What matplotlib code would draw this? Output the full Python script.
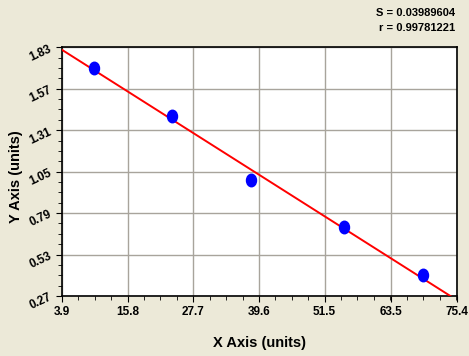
import numpy as np
import matplotlib
matplotlib.use("Agg")
import matplotlib.pyplot as plt
from matplotlib.path import Path
from matplotlib.transforms import Affine2D
from matplotlib.ticker import AutoMinorLocator

plt.rcParams['font.family'] = ['Liberation Sans', 'DejaVu Sans']

x = [9.75, 23.8, 38.15, 55.0, 69.25]
y = [1.70, 1.40, 1.00, 0.70, 0.40]
xticks = [3.9, 15.8, 27.7, 39.6, 51.5, 63.5, 75.4]
yticks = [0.27, 0.53, 0.79, 1.05, 1.31, 1.57, 1.83]
s_text = "S = 0.03989604"
r_text = "r = 0.99781221"

bg = "#ECE9D8"
fig = plt.figure(figsize=(4.69, 3.56), dpi=100, facecolor=bg)
ax = fig.add_axes([0.1322, 0.1685, 0.8412, 0.6986])
ax.set_facecolor("white")

# least squares line
slope, icpt = np.polyfit(x, y, 1)
xl = np.array([xticks[0], xticks[-1]])
ax.plot(xl, slope * xl + icpt, color="#FF0000", lw=1.4, zorder=3)

ellipse = Path.unit_circle().transformed(Affine2D().scale(0.8, 1.0))
ax.plot(x, y, linestyle="none", marker=ellipse, markersize=9,
        color="#0000FF", zorder=4)

ax.set_xlim(xticks[0], xticks[-1])
ax.set_ylim(yticks[0], yticks[-1])
ax.set_xticks(xticks)
ax.set_yticks(yticks)
ax.set_xticklabels([f"{v:.1f}" for v in xticks], fontsize=8.5, fontweight="bold")
ax.set_yticklabels([f"{v:.2f}" for v in yticks], fontsize=8.5, fontweight="bold",
                   rotation=25)
ax.xaxis.set_minor_locator(AutoMinorLocator(4))
ax.yaxis.set_minor_locator(AutoMinorLocator(4))
ax.tick_params(which="both", direction="out", color="black")
ax.tick_params(which="major", length=4)
ax.tick_params(which="minor", length=3)
ax.tick_params(axis="x", pad=3)
ax.tick_params(axis="y", pad=2)
ax.grid(True, which="major", color="#A8A49C", lw=1.0)
for sp in ax.spines.values():
    sp.set_color("black")
    sp.set_linewidth(1.2)

ax.set_xlabel("X Axis (units)", fontsize=10.5, fontweight="bold", va="top")
ax.xaxis.set_label_coords(0.5, -0.16)
ax.set_ylabel("Y Axis (units)", fontsize=10.5, fontweight="bold")
ax.yaxis.set_label_coords(-0.10, 0.48)

fig.text(0.970, 0.9635, s_text, ha="right", va="center", fontsize=8,
         fontweight="bold")
fig.text(0.970, 0.922, r_text, ha="right", va="center", fontsize=8,
         fontweight="bold")

fig.savefig("out.png", dpi=100, facecolor=bg)
